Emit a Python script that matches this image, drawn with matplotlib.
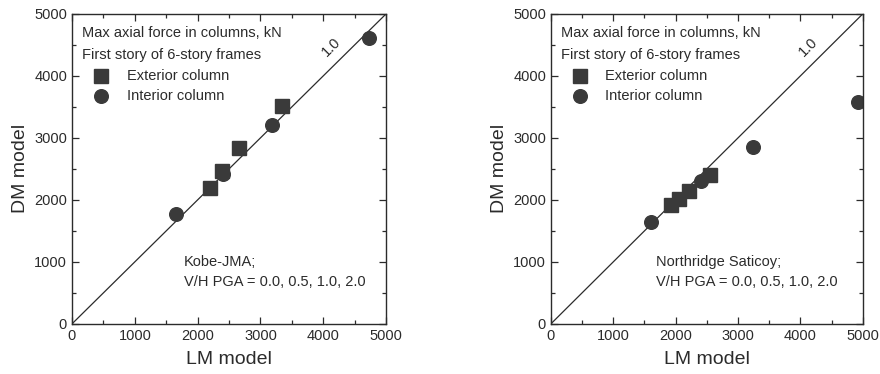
import matplotlib.pyplot as plt
from matplotlib.ticker import MultipleLocator

plt.rcParams['font.family'] = ['Liberation Sans', 'DejaVu Sans']

# Kobe-JMA panel
kobe_ext_lm = [2200, 2380, 2660, 3350]
kobe_ext_dm = [2190, 2470, 2830, 3520]
kobe_int_lm = [1650, 2400, 3180, 4730]
kobe_int_dm = [1780, 2410, 3210, 4610]

# Northridge Saticoy panel
nr_ext_lm = [1930, 2060, 2220, 2550]
nr_ext_dm = [1910, 2010, 2140, 2400]
nr_int_lm = [1610, 2410, 3240, 4920]
nr_int_dm = [1650, 2310, 2860, 3575]

panels = [
    (kobe_ext_lm, kobe_ext_dm, kobe_int_lm, kobe_int_dm,
     ['Kobe-JMA;', 'V/H PGA = 0.0, 0.5, 1.0, 2.0'], 1780),
    (nr_ext_lm, nr_ext_dm, nr_int_lm, nr_int_dm,
     ['Northridge Saticoy;', 'V/H PGA = 0.0, 0.5, 1.0, 2.0'], 1680),
]

ink = '#2b2b2b'
mk = '#3a3a3a'

fig = plt.figure(figsize=(8.8, 3.74), dpi=100)
boxes = [[0.0818, 0.134, 0.357, 0.829], [0.626, 0.134, 0.3545, 0.829]]

for box, (ex, ey, ix, iy, note, note_x) in zip(boxes, panels):
    ax = fig.add_axes(box)
    ax.plot([0, 5000], [0, 5000], color=ink, lw=0.9)
    ax.plot(ex, ey, 's', color=mk, ms=9.5, mec=mk)
    ax.plot(ix, iy, 'o', color=mk, ms=9.8, mec=mk)
    ax.set_xlim(0, 5000)
    ax.set_ylim(0, 5000)
    ax.xaxis.set_major_locator(MultipleLocator(1000))
    ax.yaxis.set_major_locator(MultipleLocator(1000))
    ax.xaxis.set_minor_locator(MultipleLocator(500))
    ax.yaxis.set_minor_locator(MultipleLocator(500))
    ax.tick_params(which='both', direction='in', top=True, right=True,
                   colors=ink, labelsize=10.5, width=0.9)
    ax.tick_params(which='major', length=5)
    ax.tick_params(which='minor', length=3)
    for s in ax.spines.values():
        s.set_color(ink)
        s.set_linewidth(1.0)
    ax.set_xlabel('LM model', fontsize=14, color=ink, labelpad=6)
    ax.set_ylabel('DM model', fontsize=14, color=ink, labelpad=4)

    ax.text(160, 4690, 'Max axial force in columns, kN', fontsize=10.5,
            color=ink, va='center')
    ax.text(160, 4340, 'First story of 6-story frames', fontsize=10.5,
            color=ink, va='center')
    ax.plot([460], [4000], 's', color=mk, ms=9.5, mec=mk)
    ax.plot([460], [3670], 'o', color=mk, ms=9.8, mec=mk)
    ax.text(870, 4000, 'Exterior column', fontsize=10.5, color=ink, va='center')
    ax.text(870, 3670, 'Interior column', fontsize=10.5, color=ink, va='center')
    ax.text(4130, 4470, '1.0', fontsize=10.5, color=ink, rotation=45,
            ha='center', va='center')
    ax.text(note_x, 1000, note[0], fontsize=10.5, color=ink, va='center')
    ax.text(note_x, 670, note[1], fontsize=10.5, color=ink, va='center')

fig.savefig('out.png', dpi=100)
